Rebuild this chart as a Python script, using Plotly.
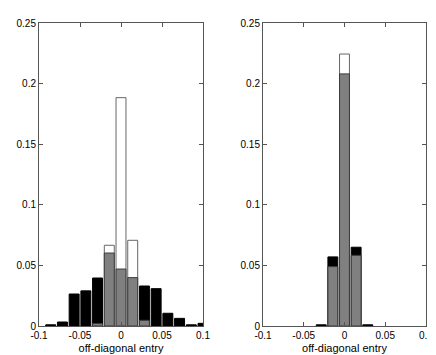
import plotly.graph_objects as go

# bin centres are k/70, k = -7..7
bin_index = list(range(-7, 8))
centres = [k / 70 for k in bin_index]

# left panel (None = empty bin)
left_white = [None, None, None, None, None, None, 0.0666, 0.1884, 0.0707, None, None, None, None, None, None]
left_black = [None, 0.001, 0.0033, 0.0264, 0.029, 0.0396, None, None, None, 0.033, 0.0308, 0.0105, 0.0063, 0.001, 0.0022]
left_gray = [None, None, None, None, None, 0.002, 0.0602, 0.047, 0.0399, 0.0047, None, None, None, None, None]

# right panel
right_white = [None, None, None, None, None, None, None, 0.2244, None, None, None, None, None, None, None]
right_black = [None, None, None, None, None, 0.001, 0.057, None, 0.065, 0.001, None, None, None, None, None]
right_gray = [None, None, None, None, None, None, 0.049, 0.208, 0.0583, None, None, None, None, None, None]

x_ticks = [-0.1, -0.05, 0, 0.05, 0.1]
x_ticktext = ["-0.1", "-0.05", "0", "0.05", "0.1"]
y_ticks = [0, 0.05, 0.1, 0.15, 0.2, 0.25]
y_ticktext = ["0", "0.05", "0.1", "0.15", "0.2", "0.25"]

BAR_W = 0.85 / 70

# page body adds an 8px margin, so the figure is laid out 8px smaller
W, H, OFF = 428, 347, 8

fig = go.Figure()


def add_panel(white, black, gray, xa, ya):
    fig.add_trace(go.Bar(x=centres, y=white, width=BAR_W, xaxis=xa, yaxis=ya,
                         marker=dict(color="white", line=dict(color="#666666", width=1))))
    fig.add_trace(go.Bar(x=centres, y=black, width=BAR_W, xaxis=xa, yaxis=ya,
                         marker=dict(color="black", line=dict(color="black", width=1))))
    fig.add_trace(go.Bar(x=centres, y=gray, width=BAR_W, xaxis=xa, yaxis=ya,
                         marker=dict(color="#808080", line=dict(color="#3a3a3a", width=1))))


add_panel(left_white, left_black, left_gray, "x", "y")
add_panel(right_white, right_black, right_gray, "x2", "y2")

axis_common = dict(showline=True, linecolor="#555555", linewidth=1, mirror="ticks",
                   ticks="inside", ticklen=4, tickcolor="#555555", showgrid=False,
                   zeroline=False, tickfont=dict(family="Liberation Sans", size=10, color="black"))

xa = dict(axis_common, range=[-0.1, 0.1], tickvals=x_ticks, ticktext=x_ticktext,
          title=dict(text="off-diagonal entry", standoff=4,
                     font=dict(family="Liberation Sans", size=11, color="black")))
ya = dict(axis_common, range=[0, 0.25], tickvals=y_ticks, ticktext=y_ticktext)

ydom = [1 - (326 - OFF) / H, 1 - (23 - OFF) / H]

fig.update_layout(
    width=W, height=H,
    template="none",
    margin=dict(l=0, r=0, t=0, b=0),
    barmode="overlay",
    showlegend=False,
    plot_bgcolor="white",
    paper_bgcolor="white",
    xaxis=dict(xa, domain=[(39 - OFF) / W, (203 - OFF) / W], anchor="y"),
    yaxis=dict(ya, domain=ydom, anchor="x"),
    xaxis2=dict(xa, domain=[(263 - OFF) / W, (426 - OFF) / W], anchor="y2"),
    yaxis2=dict(ya, domain=ydom, anchor="x2"),
)

fig.write_html("out.html")
